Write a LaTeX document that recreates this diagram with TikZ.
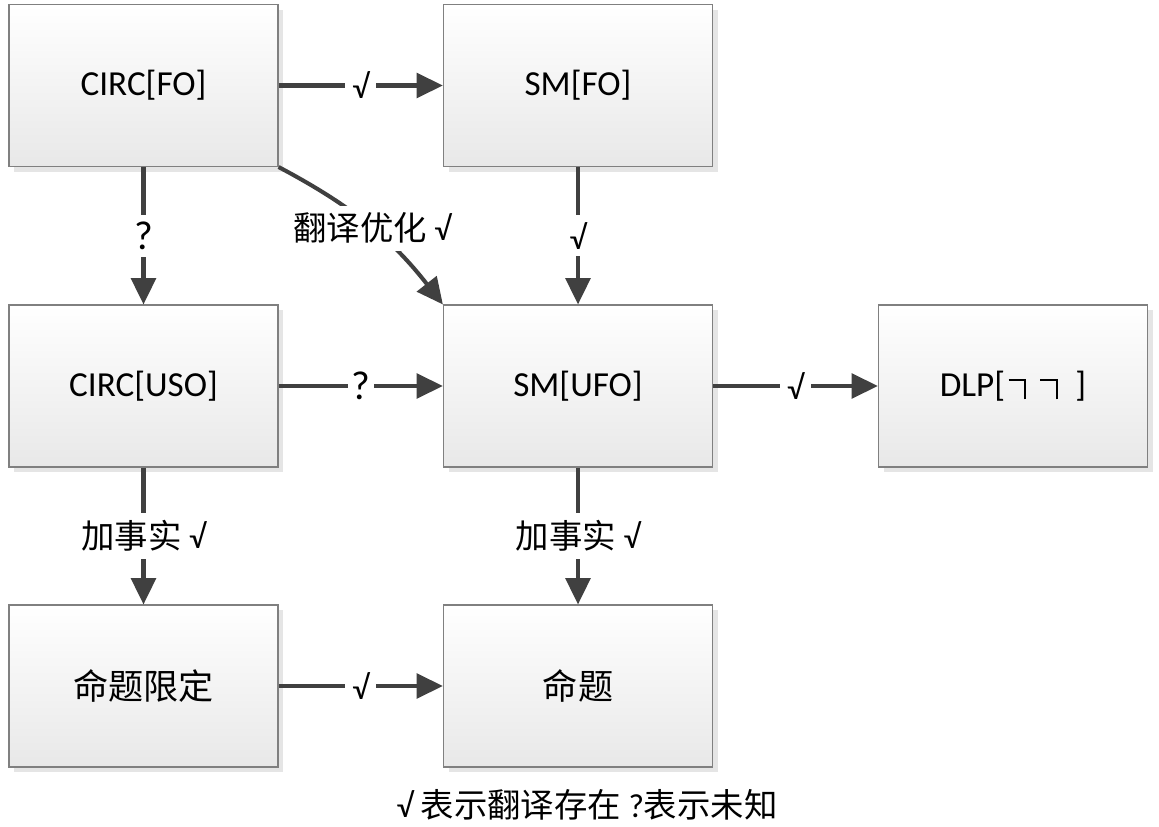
\documentclass[tikz,border=0pt]{standalone}
\usepackage{fontspec}
\setmainfont{Carlito}
\newfontfamily\cjk{Noto Sans CJK SC}
\usetikzlibrary{arrows.meta,shadows}

\newcommand\bignot{\rule[0.43em]{0.5em}{0.055em}\hspace{-0.055em}\rule[-0.085em]{0.055em}{0.57em}}
\newcommand\unk{{\fontsize{23}{23}\selectfont ?}}

\tikzset{
  stage/.style={rectangle, draw=black!50, line width=0.8pt,
    top color=white, bottom color=black!9,
    minimum width=153pt, minimum height=92pt, inner sep=0pt,
    drop shadow={shadow xshift=3pt, shadow yshift=-3pt, fill=black!10, opacity=1},
    font=\fontsize{20}{24}\selectfont},
  flow/.style={-{Triangle[length=15pt,width=14pt]}, line width=2.3pt, draw=black!75},
  tag/.style={fill=white, inner sep=4pt, font=\fontsize{19}{23}\selectfont},
}

\begin{document}
\begin{tikzpicture}[x=0.02cm, y=-0.02cm]
    \useasboundingbox[fill=white] (0,0) rectangle (1159,827);

    % --- Top row ---
    \node[stage] (circfo) at (143.5,85.5) {CIRC[FO]};
    \node[stage] (smfo)   at (578,85.5)   {SM[FO]};

    % --- Middle row ---
    \node[stage] (circuso) at (143.5,386) {CIRC[USO]};
    \node[stage] (smufo)   at (578,386)   {SM[UFO]};
    \node[stage] (dlp)     at (1013,386)
        {DLP[\hspace{0.1em}\bignot\hspace{0.4em}\bignot\hspace{0.5em}]};

    % --- Bottom row ---
    \node[stage] (propres) at (143.5,686) {\cjk 命题限定};
    \node[stage] (prop)    at (578,686)   {\cjk 命题};

    % --- Horizontal translations ---
    \draw[flow] (circfo) -- node[tag] {√} (smfo);
    \draw[flow] (circuso) -- node[tag, inner sep=2pt] {\unk} (smufo);
    \draw[flow] (smufo) -- node[tag] {√} (dlp);
    \draw[flow] (propres) -- node[tag] {√} (prop);

    % --- Vertical translations ---
    \draw[flow] (circfo) -- node[tag] {\unk} (circuso);
    \draw[flow] (smfo) -- node[tag] {√} (smufo);
    \draw[flow] (circuso) -- node[tag] {{\cjk 加事实} √} (propres);
    \draw[flow] (smufo) -- node[tag] {{\cjk 加事实} √} (prop);

    % --- Optimised translation (diagonal) ---
    \draw[flow] (circfo.south east) to[bend left=12]
        node[tag, pos=0.52] {{\cjk 翻译优化} √} (smufo.north west);

    % --- Legend ---
    \node[font=\fontsize{19}{23}\selectfont] (legend) at (587,805)
        {√ {\cjk 表示翻译存在} ?{\cjk 表示未知}};
\end{tikzpicture}
\end{document}
